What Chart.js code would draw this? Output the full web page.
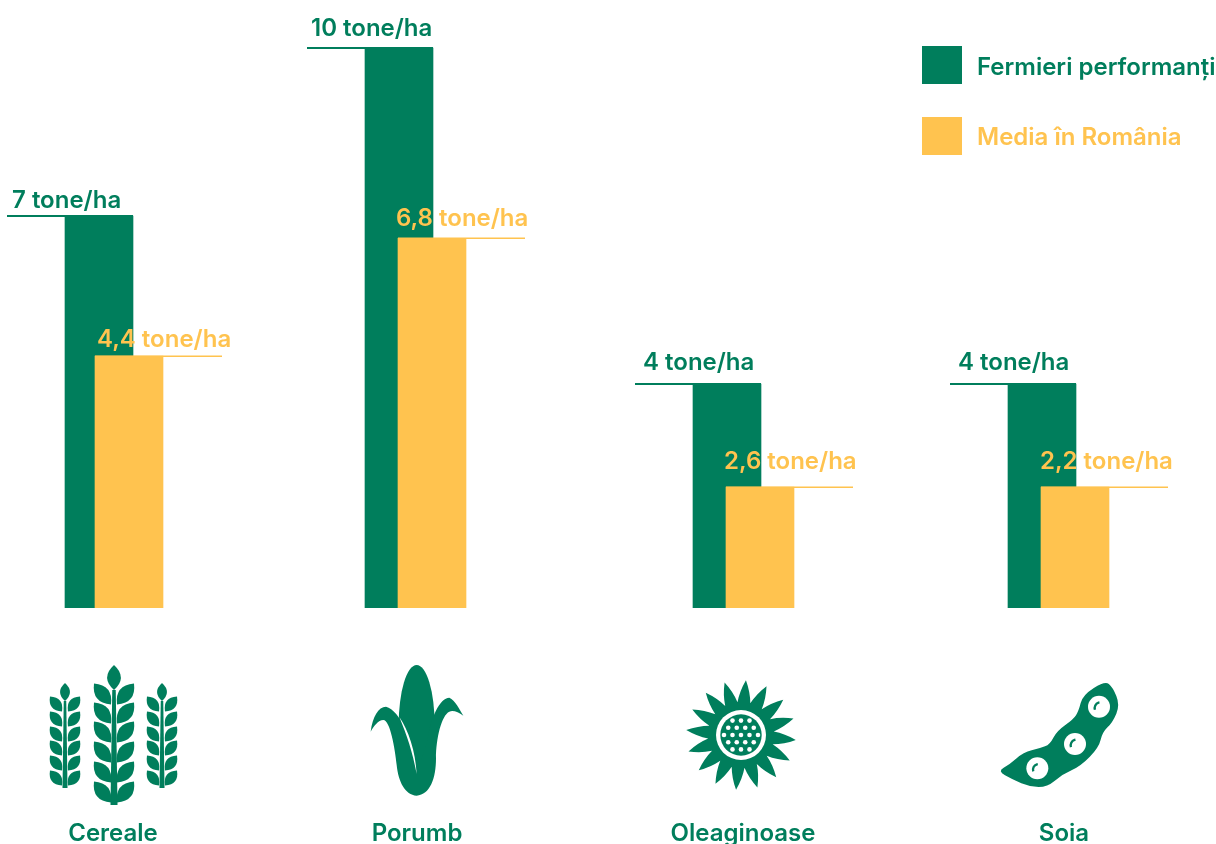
<!DOCTYPE html>
<html lang="ro">
<head>
<meta charset="utf-8">
<title>Randamente</title>
<script src="https://cdn.jsdelivr.net/npm/chart.js@4"></script>
<style>
  html, body { margin: 0; padding: 0; background: #fff; overflow: hidden; }
  canvas { display: block; }
</style>
</head>
<body>
<canvas id="chart" width="1216" height="844"></canvas>
<script>
  // date
  const categories = ['Cereale', 'Porumb', 'Oleaginoase', 'Soia'];
  const seriesNames = ['Fermieri performanți', 'Media în România'];
  const topValues = [7, 10, 4, 4];
  const avgValues = [4.5, 6.6, 2.16, 2.16]; // inaltimea barelor, nu e la scara etichetelor
  const topLabels = ['7 tone/ha', '10 tone/ha', '4 tone/ha', '4 tone/ha'];
  const avgLabels = ['4,4 tone/ha', '6,8 tone/ha', '2,6 tone/ha', '2,2 tone/ha'];

  // asezare pe axa x (grupurile nu sunt la distante egale)
  const topX = [99, 399, 727, 1042];
  const avgX = [129, 432, 760, 1075];
  const categoryX = [113, 417, 743, 1064];
  const iconX = [114, 417, 741, 1058];
  const topTextDx = [-53, -54, -50, -50];
  const avgTextDx = [2, -2, -2, -1];
  const topTextGap = [16, 20, 22, 22];
  const avgTextGap = [17, 20, 26, 26];
  const legendY = [46, 117];

  const GREEN = '#007e5c';
  const YELLOW = '#ffc34f';
  const FONT = 'Inter, sans-serif';
  const FONT_SIZE = 24;
  const FONT_WEIGHT = '600';
  const BAR = 68;

  function toPoints(xs, ys) {
    return ys.map((y, i) => ({ x: xs[i], y: y }));
  }

  // frunza simpla, de la baza la varf
  function leaf(ctx, bx, by, tx, ty, bulge) {
    const mx = (bx + tx) / 2, my = (by + ty) / 2;
    const dx = tx - bx, dy = ty - by;
    const len = Math.hypot(dx, dy);
    const nx = -dy / len * bulge, ny = dx / len * bulge;
    ctx.beginPath();
    ctx.moveTo(bx, by);
    ctx.quadraticCurveTo(mx + nx, my + ny, tx, ty);
    ctx.quadraticCurveTo(mx - nx, my - ny, bx, by);
    ctx.fill();
  }

  function wheatStalk(ctx, cx, topY, budH, ys, reachX, reachY, bulge, bottomY, stem) {
    ctx.beginPath();
    ctx.moveTo(cx - stem / 4, topY + budH);
    ctx.lineTo(cx + stem / 4, topY + budH);
    ctx.lineTo(cx + stem / 2, bottomY);
    ctx.lineTo(cx - stem / 2, bottomY);
    ctx.fill();
    // mugurele de sus
    leaf(ctx, cx, topY + budH, cx, topY, budH * 0.55);
    ys.forEach((y) => {
      leaf(ctx, cx - 3, y + reachY / 2, cx - reachX, y - reachY / 2, bulge);
      leaf(ctx, cx + 3, y + reachY / 2, cx + reachX, y - reachY / 2, bulge);
    });
  }

  function drawWheat(ctx, cx) {
    wheatStalk(ctx, cx, 665, 25, [694, 713, 732, 752, 772, 792], 20, 21, 14, 805, 7);
    wheatStalk(ctx, cx - 49, 683, 18, [704, 719, 734, 748, 763, 778], 15, 15, 10.5, 788, 5);
    wheatStalk(ctx, cx + 48, 683, 18, [704, 719, 734, 748, 763, 778], 15, 15, 10.5, 788, 5);
  }

  function drawCorn(ctx, cx) {
    // coordonate luate din crop, scara 1/3
    ctx.save();
    ctx.translate(cx - 67, 655);
    ctx.scale(1 / 3, 1 / 3);
    ctx.beginPath();
    ctx.ellipse(200, 210, 54, 180, 0, 0, Math.PI * 2);
    ctx.fill();
    ctx.beginPath();
    ctx.moveTo(62, 230);
    ctx.bezierCurveTo(68, 185, 85, 155, 108, 155);
    ctx.bezierCurveTo(150, 165, 190, 260, 200, 355);
    ctx.lineTo(232, 260);
    ctx.bezierCurveTo(240, 190, 270, 128, 298, 128);
    ctx.bezierCurveTo(315, 135, 330, 165, 340, 182);
    ctx.bezierCurveTo(325, 172, 310, 165, 298, 170);
    ctx.bezierCurveTo(275, 180, 258, 250, 258, 310);
    ctx.bezierCurveTo(258, 370, 240, 420, 200, 422);
    ctx.bezierCurveTo(165, 420, 145, 380, 140, 330);
    ctx.bezierCurveTo(135, 280, 120, 195, 100, 195);
    ctx.bezierCurveTo(85, 195, 70, 215, 62, 230);
    ctx.closePath();
    ctx.fill();
    // fanta alba dintre stiulete si frunza
    ctx.fillStyle = '#fff';
    ctx.beginPath();
    ctx.moveTo(148, 186);
    ctx.bezierCurveTo(175, 225, 197, 290, 200, 357);
    ctx.bezierCurveTo(188, 290, 170, 240, 148, 186);
    ctx.fill();
    ctx.restore();
  }

  function drawSunflower(ctx, cx, cy) {
    const petals = 16;
    ctx.beginPath();
    for (let i = 0; i < petals; i++) {
      const a = -Math.PI / 2 + 0.09 + i * 2 * Math.PI / petals;
      const step = Math.PI / petals;
      const tipX = cx + 55 * Math.cos(a), tipY = cy + 55 * Math.sin(a);
      const startX = cx + 33 * Math.cos(a - step), startY = cy + 33 * Math.sin(a - step);
      const endX = cx + 33 * Math.cos(a + step), endY = cy + 33 * Math.sin(a + step);
      if (i === 0) ctx.moveTo(startX, startY);
      ctx.quadraticCurveTo(cx + 44 * Math.cos(a - step * 0.62), cy + 44 * Math.sin(a - step * 0.62), tipX, tipY);
      ctx.quadraticCurveTo(cx + 44 * Math.cos(a + step * 0.62), cy + 44 * Math.sin(a + step * 0.62), endX, endY);
    }
    ctx.closePath();
    ctx.fill();
    ctx.fillStyle = '#fff';
    ctx.beginPath();
    ctx.arc(cx, cy, 25, 0, Math.PI * 2);
    ctx.fill();
    ctx.fillStyle = GREEN;
    ctx.beginPath();
    ctx.arc(cx, cy, 20.7, 0, Math.PI * 2);
    ctx.fill();
    ctx.fillStyle = '#fff';
    [3, 4, 5, 4, 3].forEach((count, row) => {
      for (let k = 0; k < count; k++) {
        ctx.beginPath();
        ctx.arc(cx + (k - (count - 1) / 2) * 8.5, cy + (row - 2) * 7.2, 2.3, 0, Math.PI * 2);
        ctx.fill();
      }
    });
  }

  function drawSoy(ctx, cx) {
    const outline = [[22, 288], [60, 268], [100, 232], [150, 220], [180, 208], [200, 168], [250, 133], [266, 108],
      [278, 60], [345, 18], [368, 36], [390, 90], [368, 142], [337, 172], [327, 217], [272, 274], [217, 298],
      [172, 336], [120, 336], [68, 314]];
    ctx.save();
    ctx.translate(cx - 68, 675);
    ctx.scale(1 / 3, 1 / 3);
    ctx.beginPath();
    const n = outline.length;
    ctx.moveTo((outline[n - 1][0] + outline[0][0]) / 2, (outline[n - 1][1] + outline[0][1]) / 2);
    outline.forEach((p, i) => {
      const next = outline[(i + 1) % n];
      ctx.quadraticCurveTo(p[0], p[1], (p[0] + next[0]) / 2, (p[1] + next[1]) / 2);
    });
    ctx.closePath();
    ctx.fill();
    [[327, 95], [255, 207], [142, 280]].forEach((c) => {
      ctx.fillStyle = '#fff';
      ctx.beginPath();
      ctx.arc(c[0], c[1], 33, 0, Math.PI * 2);
      ctx.fill();
      ctx.strokeStyle = GREEN;
      ctx.lineWidth = 7;
      ctx.beginPath();
      ctx.arc(c[0] + 4, c[1] + 4, 17, Math.PI * 0.9, Math.PI * 1.45);
      ctx.stroke();
    });
    ctx.restore();
  }

  const labelsPlugin = {
    id: 'valueLabels',
    afterDatasetsDraw(chart) {
      const ctx = chart.ctx;
      ctx.save();
      ctx.textBaseline = 'alphabetic';
      ctx.textAlign = 'left';
      ctx.font = FONT_WEIGHT + ' ' + FONT_SIZE + 'px ' + FONT;

      chart.getDatasetMeta(0).data.forEach((bar, i) => {
        const y = Math.round(bar.y);
        const left = bar.x - BAR / 2;
        ctx.fillStyle = GREEN;
        ctx.fillRect(left - 58, y - 1, 58 + BAR, 2);
        ctx.fillText(topLabels[i], left + topTextDx[i], y - topTextGap[i] + 8);
      });
      chart.getDatasetMeta(1).data.forEach((bar, i) => {
        const y = Math.round(bar.y);
        const left = bar.x - BAR / 2;
        ctx.fillStyle = YELLOW;
        ctx.fillRect(left, y - 0.5, BAR + 59, 1.5);
        ctx.fillText(avgLabels[i], left + avgTextDx[i], y - avgTextGap[i] + 8);
      });

      // legenda, cu textul putin mai jos decat ar pune-o cea din Chart.js
      chart.data.datasets.forEach((ds, i) => {
        ctx.fillStyle = ds.backgroundColor;
        ctx.fillRect(922, legendY[i], 40, 38);
        ctx.fillText(ds.label, 977, legendY[i] + 29 - i);
      });

      // pictogramele de sub bare
      ctx.fillStyle = GREEN;
      drawWheat(ctx, iconX[0]);
      drawCorn(ctx, iconX[1]);
      ctx.fillStyle = GREEN;
      drawSunflower(ctx, iconX[2], 735);
      ctx.fillStyle = GREEN;
      drawSoy(ctx, iconX[3]);
      ctx.restore();
    }
  };

  new Chart(document.getElementById('chart').getContext('2d'), {
    type: 'bar',
    data: {
      datasets: [
        { label: seriesNames[0], data: toPoints(topX, topValues), backgroundColor: GREEN, order: 2 },
        { label: seriesNames[1], data: toPoints(avgX, avgValues), backgroundColor: YELLOW, order: 1 }
      ]
    },
    options: {
      responsive: false,
      animation: false,
      layout: { padding: 0 },
      datasets: { bar: { barThickness: BAR, grouped: false } },
      scales: {
        x: {
          type: 'linear',
          offset: false,
          min: 0,
          max: 1216,
          grid: { display: false },
          border: { display: false },
          afterFit(scale) {
            scale.height = 236;
            // padding-ul mare de la ticks nu trebuie sa ingusteze graficul
            scale.paddingLeft = 0;
            scale.paddingRight = 0;
          },
          afterBuildTicks(scale) { scale.ticks = categoryX.map((v) => ({ value: v })); },
          ticks: {
            autoSkip: false,
            maxRotation: 0,
            padding: 203,
            color: GREEN,
            font: { family: FONT, size: FONT_SIZE, weight: FONT_WEIGHT },
            callback: (value) => categories[categoryX.indexOf(value)]
          }
        },
        y: {
          display: false,
          min: 0,
          max: 10.857
        }
      },
      plugins: {
        tooltip: { enabled: false },
        legend: { display: false }
      }
    },
    plugins: [labelsPlugin]
  });
</script>
</body>
</html>
